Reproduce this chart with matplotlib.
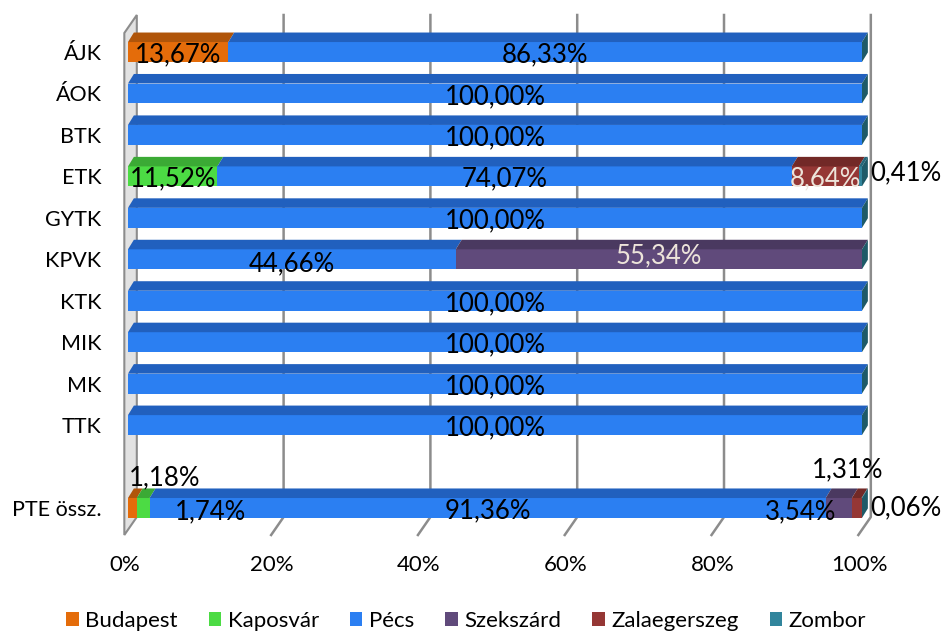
import numpy as np
import matplotlib.pyplot as plt
from matplotlib.patches import Polygon, Rectangle, Patch

plt.rcParams['font.family'] = ['Lato', 'DejaVu Sans']

# adatok (karok / telephelyek)
categories = ['ÁJK', 'ÁOK', 'BTK', 'ETK', 'GYTK', 'KPVK', 'KTK', 'MIK', 'MK', 'TTK', 'PTE össz.']
rows = [0, 1, 2, 3, 4, 5, 6, 7, 8, 9, 11]
series = ['Budapest', 'Kaposvár', 'Pécs', 'Szekszárd', 'Zalaegerszeg', 'Zombor']
budapest = [13.67, 0, 0, 0, 0, 0, 0, 0, 0, 0, 1.18]
kaposvar = [0, 0, 0, 11.52, 0, 0, 0, 0, 0, 0, 1.74]
pecs = [86.33, 100, 100, 74.07, 100, 44.66, 100, 100, 100, 100, 91.36]
szekszard = [0, 0, 0, 0, 0, 55.34, 0, 0, 0, 0, 3.54]
zala = [0, 0, 0, 8.64, 0, 0, 0, 0, 0, 0, 1.31]
zombor = [0, 0, 0, 0.41, 0, 0, 0, 0, 0, 0, 0.06]
ticks = [0, 20, 40, 60, 80, 100]

front = ['#E46C0A', '#4CDB44', '#2B7FF2', '#604A7B', '#953735', '#31859C']
top = ['#B0550A', '#3BAA35', '#2160BE', '#4A3960', '#722927', '#25677A']
endcap = '#1E5A68'

# címke elhelyezés: (kategória, sorozat) -> (x %, y eltolás)
label_pos = {
    ('ETK', 'Zombor'): (106.0, -0.08),
    ('KPVK', 'Pécs'): (22.3, 0.12),
    ('KPVK', 'Szekszárd'): (72.3, -0.08),
    ('PTE össz.', 'Budapest'): (5.0, -0.72),
    ('PTE össz.', 'Kaposvár'): (11.2, 0.1),
    ('PTE össz.', 'Szekszárd'): (91.6, 0.1),
    ('PTE össz.', 'Zalaegerszeg'): (98.1, -0.92),
    ('PTE össz.', 'Zombor'): (106.0, 0.0),
}
light_labels = [('ETK', 'Zalaegerszeg'), ('KPVK', 'Szekszárd')]

# pixel -> sor átváltás
def py(p):
    return (p - 52) / 41.45

fig = plt.figure(figsize=(9.42, 6.35), dpi=100)
ax = fig.add_axes([128 / 942, 0, 734 / 942, 1])
ax.set_xlim(0, 100)
ax.set_ylim(py(635), py(0))
for s in ax.spines.values():
    s.set_visible(False)

dx, dy = 0.8, 0.23
h = 0.48
bx = 1.2

# fal
wall = Polygon([(-0.5, py(33)), (bx, py(15)), (bx, py(517)), (-0.5, py(535))],
               closed=True, facecolor='#E2E2E2', edgecolor='#8C8C8C', lw=1.5, clip_on=False, zorder=1)
ax.add_patch(wall)
# rácsvonalak
for t in ticks[1:]:
    ax.plot([t + bx, t + bx, t - 0.5], [py(15), py(517), py(535)], color='#8C8C8C', lw=1.8,
            clip_on=False, zorder=1)

data = np.array([budapest, kaposvar, pecs, szekszard, zala, zombor]).T
for cat, r, vals in zip(categories, rows, data):
    tot = vals.sum()
    left = 0.0
    for k, v in enumerate(vals):
        if v <= 0:
            continue
        w = v / tot * 100
        a, b = left, left + w
        ax.add_patch(Rectangle((a, r - h / 2), w, h, facecolor=front[k], edgecolor='none',
                               clip_on=False, zorder=3))
        ax.add_patch(Polygon([(a, r - h / 2), (b, r - h / 2), (b + dx, r - h / 2 - dy),
                              (a + dx, r - h / 2 - dy)], closed=True, facecolor=top[k],
                             edgecolor='none', clip_on=False, zorder=3))
        key = (cat, series[k])
        x, yo = label_pos.get(key, ((a + b) / 2, 0.07))
        col = '#EDE4DA' if key in light_labels else 'black'
        ax.text(x, r + yo, f'{v:.2f}'.replace('.', ',') + '%', ha='center', va='center',
                fontsize=18.5, color=col, zorder=5, clip_on=False)
        left = b
    ax.add_patch(Polygon([(100, r - h / 2), (100 + dx, r - h / 2 - dy), (100 + dx, r + h / 2 - dy),
                          (100, r + h / 2)], closed=True, facecolor=endcap, edgecolor='none',
                         clip_on=False, zorder=3))

ax.set_yticks(rows)
ax.set_yticklabels(categories, fontsize=15.5)
ax.tick_params(axis='y', length=0, pad=19)
ax.set_xticks([])
for t in ticks:
    ax.text(t - 0.4, py(565), f'{t}%', ha='center', va='center', fontsize=16, clip_on=False)

handles = [Patch(facecolor=c, edgecolor='none') for c in front]
fig.legend(handles, series, loc='lower center', ncol=6, bbox_to_anchor=(0.495, -0.025),
           frameon=False, fontsize=16, handlelength=0.55, handleheight=0.55, handletextpad=0.3,
           columnspacing=1.4)

fig.savefig('out.png', dpi=100)
